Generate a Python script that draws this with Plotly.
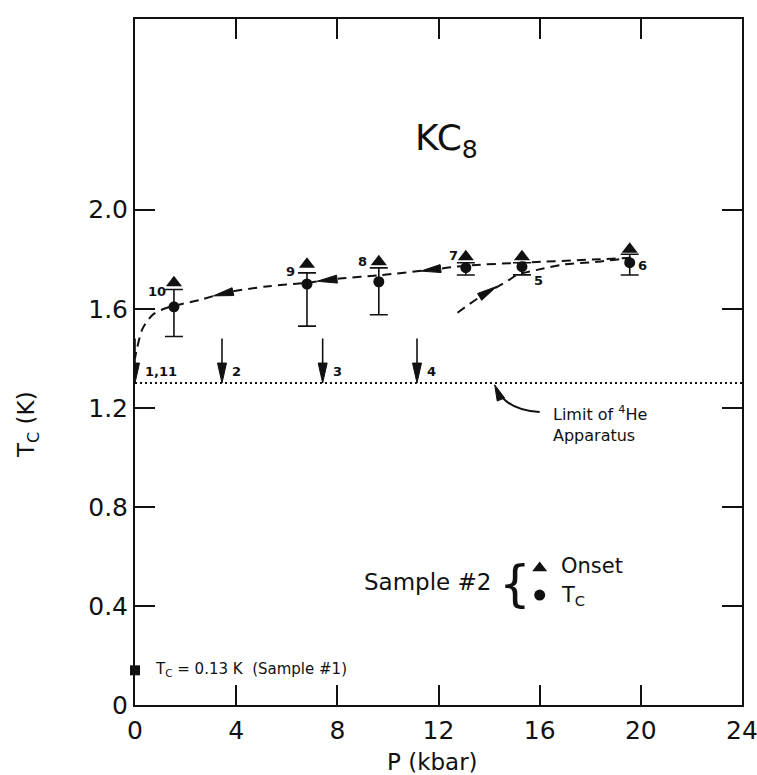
import math
import plotly.graph_objects as go

# ---------------- data ----------------
point_labels = ["10", "9", "8", "7", "5", "6"]
pressure = [1.54, 6.8, 9.64, 13.08, 15.3, 19.56]
tc = [1.608, 1.70, 1.709, 1.766, 1.77, 1.786]
tc_err_plus = [0.07, 0.045, 0.056, 0.02, 0.016, 0.034]
tc_err_minus = [0.12, 0.17, 0.133, 0.03, 0.033, 0.05]
onset = [1.705, 1.78, 1.79, 1.81, 1.81, 1.84]
label_p = [0.87, 6.14, 8.99, 12.59, 15.96, 20.08]
label_tc = [1.669, 1.75, 1.79, 1.814, 1.713, 1.774]

# decreasing-pressure path (dashed)
curve_down_p = [19.6, 18.4, 15.3, 13.08, 11.66, 9.64, 8.1, 6.8, 5.2, 3.6, 2.57, 1.54, 1.1, 0.7, 0.3, 0.08, 0.0]
curve_down_tc = [1.806, 1.80, 1.786, 1.774, 1.757, 1.735, 1.722, 1.705, 1.69, 1.665, 1.636, 1.612, 1.598, 1.576, 1.52, 1.44, 1.40]
# increasing-pressure path (dashed)
curve_up_p = [12.75, 13.6, 14.8, 15.1, 15.9, 16.9, 18.3, 19.2, 19.5]
curve_up_tc = [1.584, 1.645, 1.717, 1.737, 1.757, 1.778, 1.79, 1.80, 1.80]

# direction arrows on the curves: (tail_p, tail_tc, tip_p, tip_tc)
curve_arrows = [
    (12.3, 1.765, 11.3, 1.752),
    (8.2, 1.722, 7.2, 1.711),
    (4.0, 1.672, 3.1, 1.652),
    (13.5, 1.64, 14.3, 1.69),
]

# run sequence markers at the 4He limit
seq_labels = ["1,11", "2", "3", "4"]
seq_pressure = [0.0, 3.44, 7.42, 11.15]
he4_limit = 1.3
seq_arrow_top = 1.48

sample1_p = [0.0]
sample1_tc = [0.14]

x_ticks = [0, 4, 8, 12, 16, 20, 24]
y_ticks = [0, 0.4, 0.8, 1.2, 1.6, 2.0]
y_tick_text = ["0", "0.4", "0.8", "1.2", "1.6", "2.0"]

# ---------------- layout constants ----------------
W, H = 757, 775
ML, MR, MT, MB = 135, 15, 19, 70
XR = [0, 24]
YR = [0, 2.77]
PW, PH = W - ML - MR, H - MT - MB
SX = PW / (XR[1] - XR[0])
SY = PH / (YR[1] - YR[0])

FONT = "DejaVu Sans"
BLACK = "#111"

fig = go.Figure()

# dashed curves
fig.add_trace(go.Scatter(x=curve_down_p, y=curve_down_tc, mode="lines",
                         line=dict(color=BLACK, width=2, dash="9px,6px", shape="spline", smoothing=0.8),
                         hoverinfo="skip"))
fig.add_trace(go.Scatter(x=curve_up_p, y=curve_up_tc, mode="lines",
                         line=dict(color=BLACK, width=2, dash="9px,6px", shape="spline", smoothing=0.8),
                         hoverinfo="skip"))

# Tc with error bars
fig.add_trace(go.Scatter(x=pressure, y=tc, mode="markers",
                         marker=dict(symbol="circle", size=11, color=BLACK),
                         error_y=dict(type="data", symmetric=False, array=tc_err_plus,
                                      arrayminus=tc_err_minus, color=BLACK, thickness=1.6, width=9)))
# onset
fig.add_trace(go.Scatter(x=pressure, y=onset, mode="markers",
                         marker=dict(symbol="triangle-up", size=14, color=BLACK)))
# sample #1
fig.add_trace(go.Scatter(x=sample1_p, y=sample1_tc, mode="markers",
                         marker=dict(symbol="square", size=10, color=BLACK), cliponaxis=False))
# legend markers
fig.add_trace(go.Scatter(x=[16.0], y=[0.553], mode="markers",
                         marker=dict(symbol="triangle-up", size=13, color=BLACK)))
fig.add_trace(go.Scatter(x=[16.0], y=[0.444], mode="markers",
                         marker=dict(symbol="circle", size=11, color=BLACK)))

shapes = []
annotations = []

# 4He limit dotted line
shapes.append(dict(type="line", xref="x", yref="y", x0=XR[0], x1=XR[1], y0=he4_limit, y1=he4_limit,
                   line=dict(color=BLACK, width=2, dash="2px,3px")))


def head(xd, yd, dx, dy, length=20, width=8):
    """filled arrow head whose tip is at (xd, yd); direction (dx, dy) in pixels (up positive)."""
    n = math.hypot(dx, dy)
    ux, uy = dx / n, dy / n
    px, py = -uy, ux
    bx, by = -ux * length, -uy * length
    p1 = (bx + px * width / 2, by + py * width / 2)
    p2 = (bx - px * width / 2, by - py * width / 2)
    path = f"M0,0 L{p1[0]:.2f},{p1[1]:.2f} L{p2[0]:.2f},{p2[1]:.2f} Z"
    return dict(type="path", xref="x", yref="y", xsizemode="pixel", ysizemode="pixel",
                xanchor=xd, yanchor=yd, path=path, fillcolor=BLACK, line=dict(color=BLACK, width=1))


# sequence arrows
for lab, p in zip(seq_labels, seq_pressure):
    shapes.append(dict(type="line", xref="x", yref="y", x0=p, x1=p, y0=seq_arrow_top, y1=he4_limit + 0.03,
                       line=dict(color=BLACK, width=1.6)))
    shapes.append(head(p, he4_limit, 0, -1, length=20, width=9))
    annotations.append(dict(x=p, y=he4_limit + 0.045, xref="x", yref="y", text=f"<b>{lab}</b>",
                            showarrow=False, xanchor="left", yanchor="middle", xshift=8,
                            font=dict(size=13, family=FONT, color=BLACK)))

# curve arrow heads
for tp, tt, hp, ht in curve_arrows:
    shapes.append(head(hp, ht, (hp - tp) * SX, (ht - tt) * SY, length=20, width=8))

# limit-of-4He curved pointer
shapes.append(dict(type="path", xref="x", yref="y",
                   path="M 16.0,1.183 Q 14.75,1.19 14.35,1.268",
                   line=dict(color=BLACK, width=2)))
shapes.append(head(14.22, 1.293, -0.25 * SX, 0.06 * SY, length=16, width=8))

# point labels
for lab, lp, lt in zip(point_labels, label_p, label_tc):
    annotations.append(dict(x=lp, y=lt, xref="x", yref="y", text=f"<b>{lab}</b>", showarrow=False,
                            font=dict(size=13, family=FONT, color=BLACK)))

annotations += [
    dict(x=12.3, y=2.28, xref="x", yref="y", text="KC<sub>8</sub>", showarrow=False,
         font=dict(size=36, family=FONT, color=BLACK)),
    dict(x=16.45, y=1.135, xref="x", yref="y", text="Limit of <sup>4</sup>He<br>Apparatus", showarrow=False,
         xanchor="left", align="left", font=dict(size=16, family=FONT, color=BLACK)),
    dict(x=(362 - ML) / SX, y=0.496, xref="x", yref="y", text="Sample #2", showarrow=False,
         xanchor="left", font=dict(size=23, family=FONT, color=BLACK)),
    dict(x=(515 - ML) / SX, y=0.49, xref="x", yref="y", text="{", showarrow=False,
         xanchor="center", font=dict(size=50, family=FONT, color=BLACK)),
    dict(x=(559 - ML) / SX, y=0.56, xref="x", yref="y", text="Onset", showarrow=False,
         xanchor="left", font=dict(size=21, family=FONT, color=BLACK)),
    dict(x=(559 - ML) / SX, y=0.44, xref="x", yref="y", text="T<sub>C</sub>", showarrow=False,
         xanchor="left", font=dict(size=21, family=FONT, color=BLACK)),
    dict(x=0.71, y=0.145, xref="x", yref="y", text="T<sub>C</sub> = 0.13 K  (Sample #1)", showarrow=False,
         xanchor="left", font=dict(size=15, family=FONT, color=BLACK)),
    dict(x=(432 - ML) / PW, y=-(762 - (H - MB)) / PH, xref="paper", yref="paper", text="P (kbar)",
         xanchor="center", yanchor="middle",
         showarrow=False, font=dict(size=23, family=FONT, color=BLACK)),
    dict(x=(28 - ML) / PW, y=((H - MB) - 425) / PH, xref="paper", yref="paper", text="T<sub>C</sub> (K)",
         xanchor="center", yanchor="middle",
         textangle=-90, showarrow=False, font=dict(size=23, family=FONT, color=BLACK)),
]

fig.update_layout(
    width=W, height=H, margin=dict(l=ML, r=MR, t=MT, b=MB, autoexpand=False),
    paper_bgcolor="white", plot_bgcolor="white", showlegend=False,
    font=dict(family=FONT, color=BLACK),
    shapes=shapes, annotations=annotations,
    xaxis=dict(range=XR, tickvals=x_ticks, ticktext=[str(v) for v in x_ticks],
               ticks="inside", ticklen=20, tickwidth=1.6, tickcolor=BLACK,
               showline=True, linecolor=BLACK, linewidth=2, mirror="ticks",
               showgrid=False, zeroline=False, ticklabelstandoff=2,
               ticklabeloverflow="allow", automargin=False,
               tickfont=dict(size=25, family=FONT, color=BLACK)),
    yaxis=dict(range=YR, tickvals=y_ticks, ticktext=y_tick_text,
               ticks="inside", ticklen=20, tickwidth=1.6, tickcolor=BLACK,
               showline=True, linecolor=BLACK, linewidth=2, mirror="ticks",
               showgrid=False, zeroline=False, ticklabelstandoff=0,
               ticklabeloverflow="allow", automargin=False,
               tickfont=dict(size=25, family=FONT, color=BLACK)),
)

fig.write_html("out.html", config={"displayModeBar": False},
               post_script="document.body.style.margin='0';")
